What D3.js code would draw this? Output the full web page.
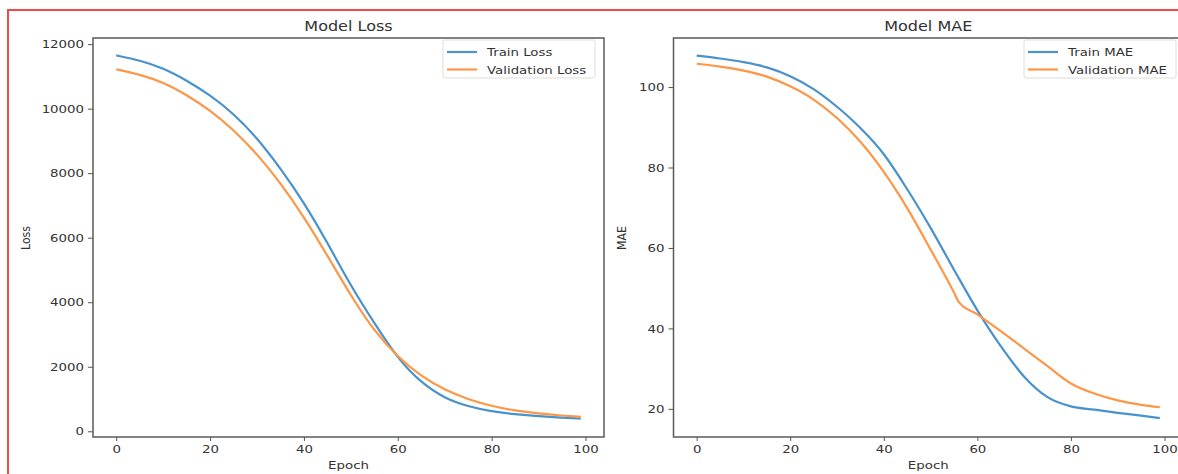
<!DOCTYPE html>
<html>
<head>
<meta charset="utf-8">
<script src="https://cdn.jsdelivr.net/npm/d3@7"></script>
<style>
  html, body { margin: 0; padding: 0; background: #fff; }
  svg { display: block; font-family: "DejaVu Sans", sans-serif; }
</style>
</head>
<body>
<svg id="chart"></svg>
<script>
// data
const ticksX = [0, 20, 40, 60, 80, 100];
const ticksLoss = [0, 2000, 4000, 6000, 8000, 10000, 12000];
const ticksMae = [20, 40, 60, 80, 100];

const lossEpochs = [0, 5, 10, 15, 20, 25, 30, 35, 40, 45, 50, 55, 60, 65, 70, 75, 80, 85, 90, 95, 99];
const trainLoss = [11650, 11500, 11260, 10880, 10420, 9850, 9100, 8150, 7100, 5850, 4500, 3350, 2250, 1500, 1020, 770, 615, 525, 465, 425, 393];
const valLoss = [11220, 11060, 10820, 10430, 9950, 9350, 8600, 7700, 6650, 5450, 4200, 3100, 2300, 1700, 1280, 990, 780, 640, 550, 485, 445];

const maeTrainEpochs = [0, 5, 10, 15, 20, 25, 30, 35, 40, 45, 50, 55, 60, 65, 70, 75, 80, 85, 90, 95, 99];
const trainMae = [107.8, 107.1, 106.2, 104.9, 102.7, 99.5, 95.1, 89.8, 83.3, 74.6, 65.0, 54.6, 44.5, 35.6, 28.0, 22.9, 20.6, 19.8, 19.0, 18.3, 17.7];
const maeValEpochs = [0, 5, 10, 15, 20, 25, 30, 35, 40, 45, 50, 55, 56, 60, 65, 70, 75, 80, 85, 90, 95, 99];
const valMae = [105.8, 105.1, 104.1, 102.6, 100.2, 96.9, 92.3, 86.4, 78.9, 69.9, 59.6, 48.9, 46.6, 43.5, 39.3, 35.0, 30.6, 26.3, 23.8, 22.1, 21.0, 20.4];

const width = 1178, height = 474;
const SX = 1.18;            // the picture is stretched sideways a bit
const BLUE = "#4a92cb", ORANGE = "#fd9646";

const svg = d3.select("#chart").attr("width", width).attr("height", height);
svg.append("rect").attr("width", width).attr("height", height).attr("fill", "#fff");

// red frame round the picture (runs off the right and bottom edges)
svg.append("rect")
  .attr("x", 8).attr("y", 10).attr("width", width + 20).attr("height", height + 20)
  .attr("fill", "none").attr("stroke", "#ef4b4b").attr("stroke-width", 2);

function label(g, x, y, s, size, anchor, rot) {
  g.append("text")
    .attr("transform", `translate(${x},${y}) scale(${SX},1)` + (rot ? " rotate(-90)" : ""))
    .attr("text-anchor", anchor || "middle")
    .attr("font-size", size)
    .attr("fill", "#333")
    .text(s);
}

function panel(opt) {
  const g = svg.append("g");
  const x = d3.scaleLinear().domain([-4.95, 103.95]).range([opt.left, opt.right]);
  const y = d3.scaleLinear().domain(opt.yDomain).range([437, 38]);

  // plot lines
  const line = d3.line().curve(opt.curve);
  opt.series.forEach(s => {
    g.append("path")
      .attr("d", line(s.epochs.map((e, i) => [x(e), y(s.values[i])])))
      .attr("fill", "none")
      .attr("stroke", s.color)
      .attr("stroke-width", 2.2)
      .attr("stroke-linejoin", "round");
  });

  // frame
  g.append("rect")
    .attr("x", opt.left).attr("y", 38)
    .attr("width", opt.right - opt.left).attr("height", 437 - 38)
    .attr("fill", "none").attr("stroke", "#5a5a5a").attr("stroke-width", 1.5);

  // axes
  const ax = g.append("g").attr("transform", "translate(0,437)")
    .call(d3.axisBottom(x).tickValues(ticksX).tickFormat(d3.format("d")).tickSize(4).tickPadding(4));
  const ay = g.append("g").attr("transform", `translate(${opt.left},0)`)
    .call(d3.axisLeft(y).tickValues(opt.yTicks).tickFormat(d3.format("d")).tickSize(5).tickPadding(4));
  [ax, ay].forEach(a => {
    a.select(".domain").remove();
    a.selectAll(".tick line").attr("stroke", "#555");
    a.selectAll(".tick text")
      .attr("fill", "#333")
      .attr("font-size", 11.3)
      .attr("font-family", "DejaVu Sans, sans-serif");
  });
  ay.selectAll(".tick text").attr("transform", `scale(${SX},1)`).attr("x", -9 / SX);
  ax.selectAll(".tick text").attr("transform", `scale(${SX},1)`);

  const cx = (opt.left + opt.right) / 2;
  label(g, cx, 31, opt.title, 13.6, "middle");
  label(g, cx, 469, "Epoch", 11.3, "middle");
  label(g, opt.yLabelX, 238, opt.yLabel, 11, "middle", true);

  // legend
  const lg = g.append("g").attr("transform", `translate(${opt.legendX},40)`);
  lg.append("rect")
    .attr("width", 152).attr("height", 38).attr("rx", 2)
    .attr("fill", "#fff").attr("fill-opacity", 0.8)
    .attr("stroke", "#ddd");
  opt.series.forEach((s, i) => {
    const yy = 12 + i * 17.5;
    lg.append("line")
      .attr("x1", 4).attr("x2", 34).attr("y1", yy).attr("y2", yy)
      .attr("stroke", s.color).attr("stroke-width", 2.2);
    label(lg, 44, yy + 4, s.name, 11.3, "start");
  });
}

panel({
  left: 93, right: 604,
  yDomain: [-177, 12190],
  yTicks: ticksLoss,
  title: "Model Loss", yLabel: "Loss", yLabelX: 30,
  legendX: 443,
  curve: d3.curveBasis,
  series: [
    { name: "Train Loss", color: BLUE, epochs: lossEpochs, values: trainLoss },
    { name: "Validation Loss", color: ORANGE, epochs: lossEpochs, values: valLoss }
  ]
});

panel({
  left: 673.5, right: 1183,
  yDomain: [13.0, 112.2],
  yTicks: ticksMae,
  title: "Model MAE", yLabel: "MAE", yLabelX: 626,
  legendX: 1024,
  curve: d3.curveMonotoneX,
  series: [
    { name: "Train MAE", color: BLUE, epochs: maeTrainEpochs, values: trainMae },
    { name: "Validation MAE", color: ORANGE, epochs: maeValEpochs, values: valMae }
  ]
});
</script>
</body>
</html>
